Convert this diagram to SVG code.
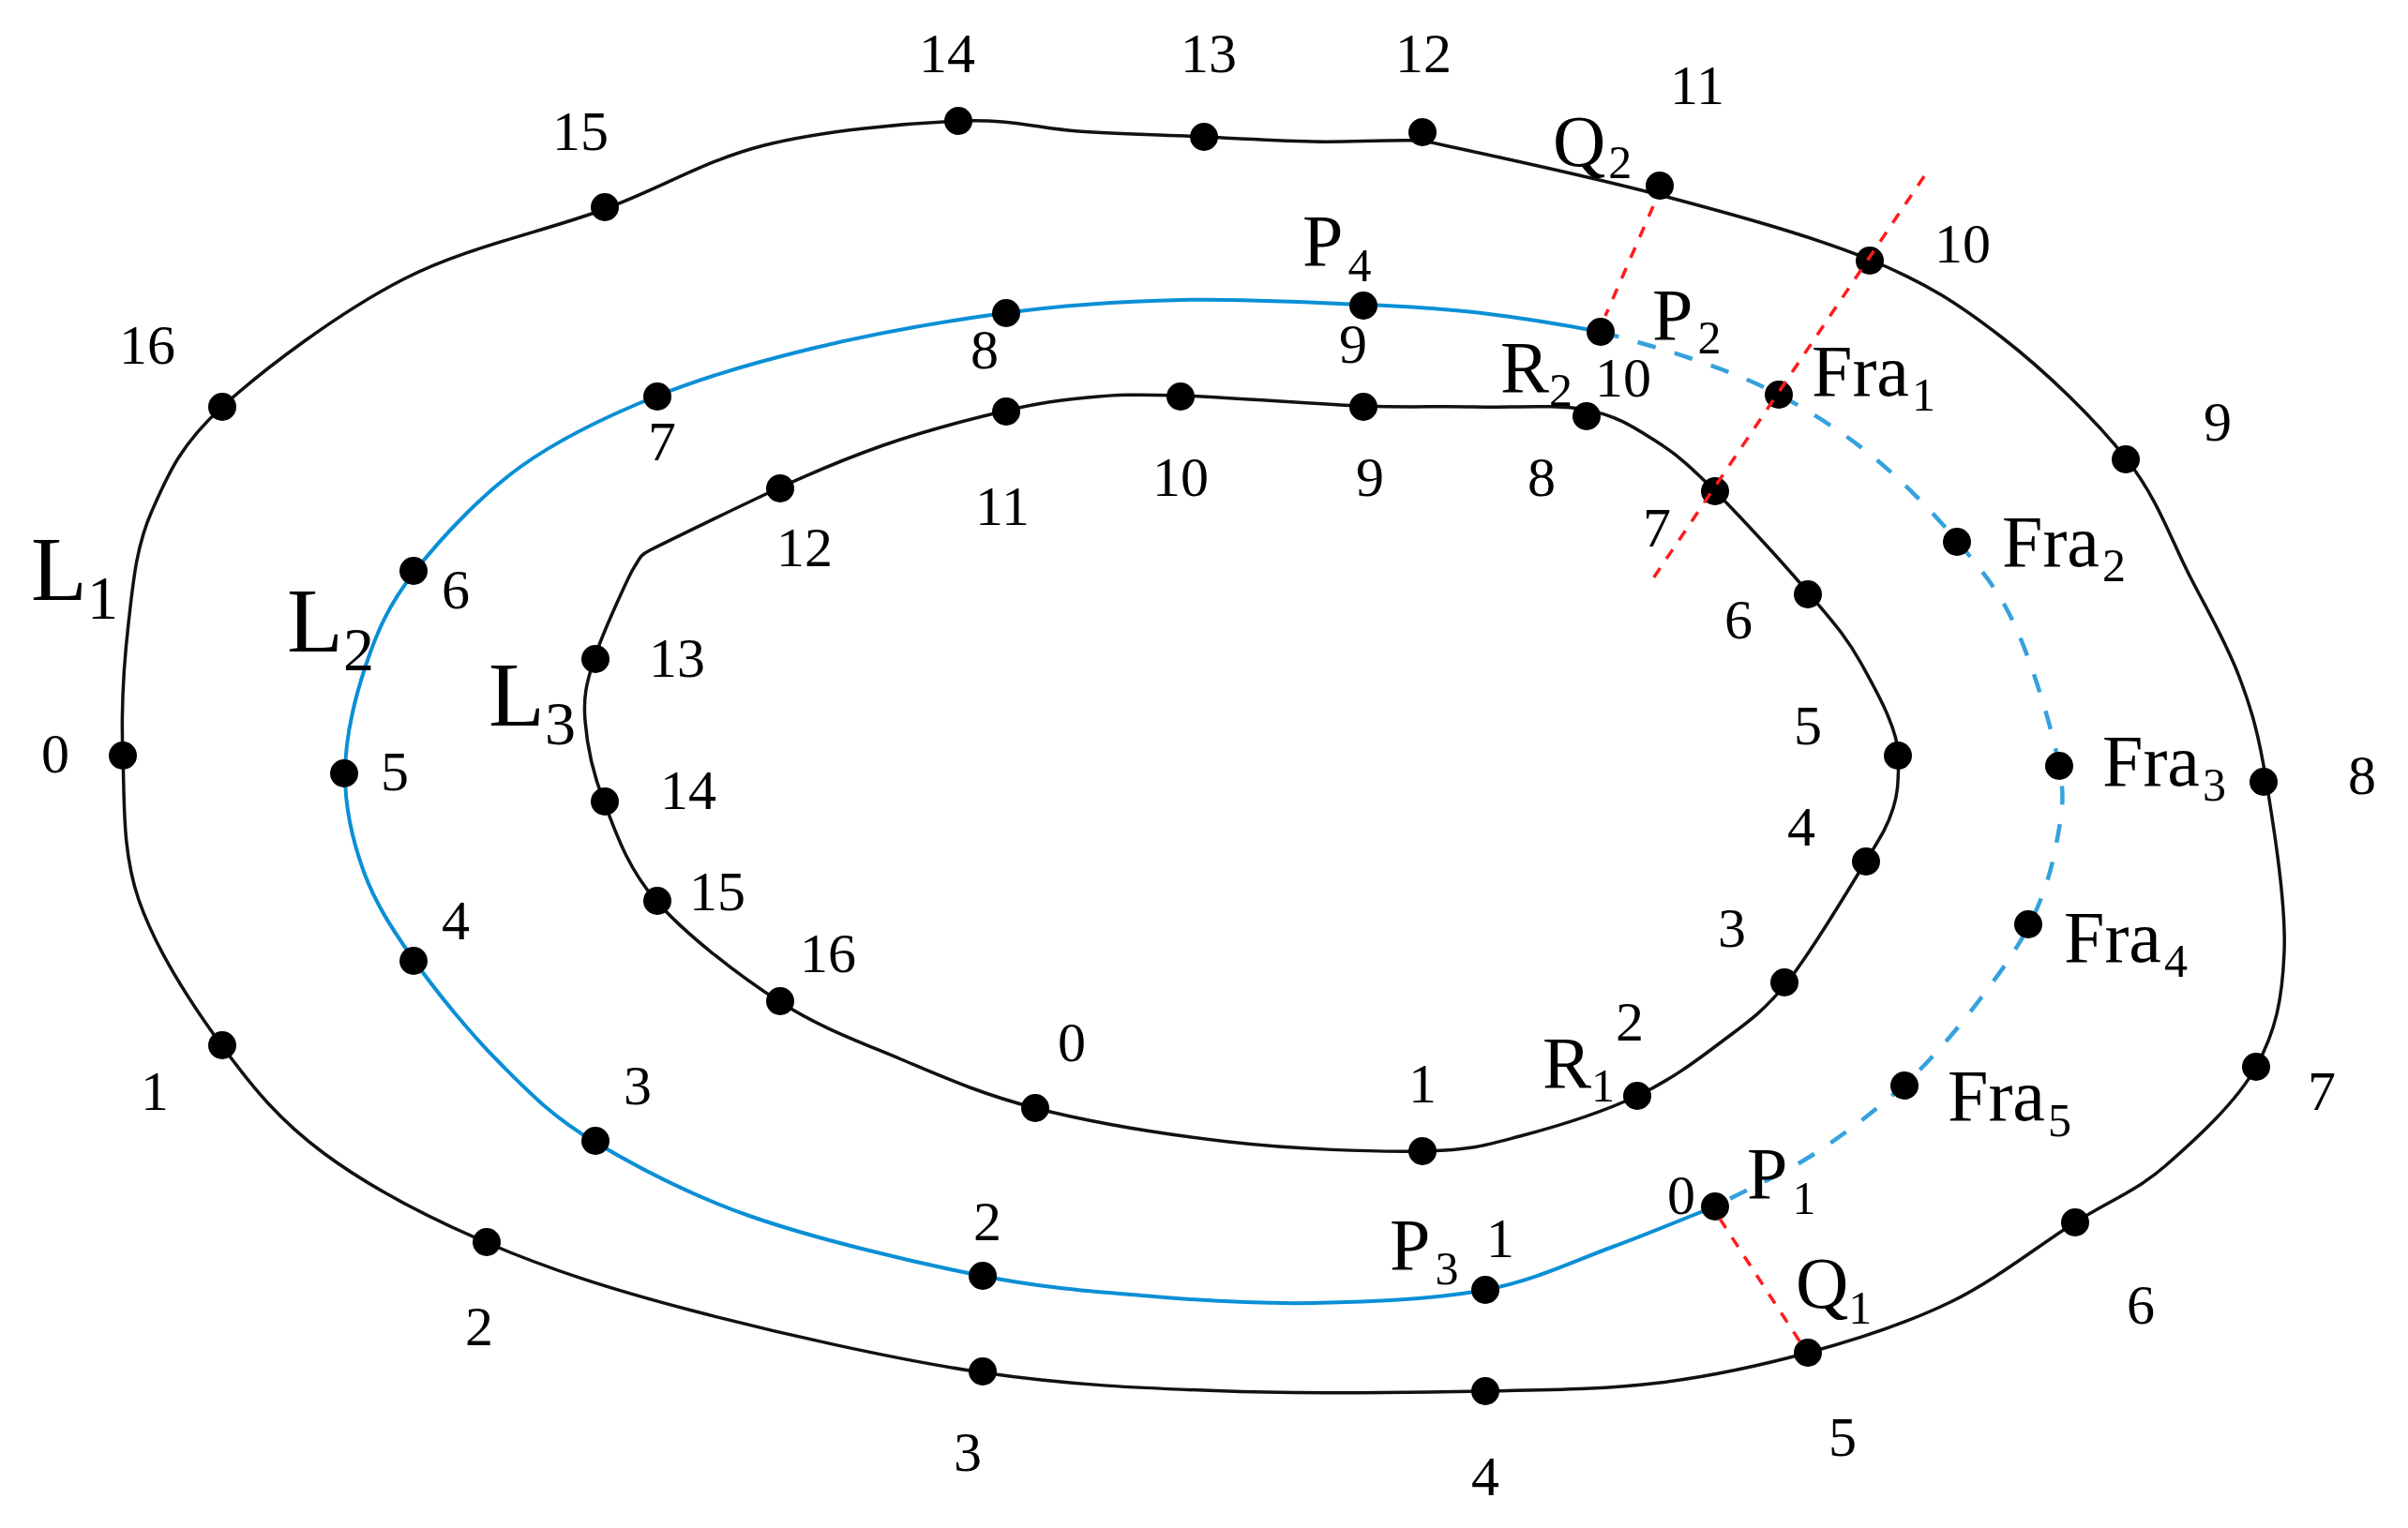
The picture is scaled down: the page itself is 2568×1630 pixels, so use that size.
<svg xmlns="http://www.w3.org/2000/svg" width="2568" height="1630" viewBox="0 0 2568 1630">
<style>
text{font-family:"Liberation Serif","Times New Roman",serif;fill:#000}
.n{font-size:60px;text-anchor:middle}
.m{font-size:78px}
.s{font-size:50px}
.b{font-size:98px}
.bs{font-size:66px}
circle{fill:#000;r:15px}
path{fill:none}
.k{stroke:#111;stroke-width:3.5}
.bl{stroke:#0a8fd6;stroke-width:4}
.da{stroke:#35a2de;stroke-width:4.5;stroke-dasharray:20 21}
.r{stroke:#ff1c1c;stroke-width:3.5;stroke-dasharray:12 12}
</style>
<rect width="2568" height="1630" fill="#fff"/>
<g id="connectors">
<path id="L1" class="k" d="M131,806 C133,855 130,908 148,960 S204,1071 237,1116 S298,1195 345,1230 S454.500,1298 520,1326 S650,1375 738,1398 S952,1450 1047,1464 S1220.500,1481 1310,1484 S1507,1485.500 1584,1484 S1713,1482 1770,1475 S1876,1457 1928,1443 S2032.500,1412 2080,1389 S2175,1328 2213,1304 S2278,1271 2310,1243 S2385,1176 2406,1138 S2434,1066 2436,1015 S2425,883 2417,834 S2402,759 2388,722 S2355,653 2335,614 S2301,532 2268,490 S2181,395.500 2135,360 S2055,302 1994,277 S1849.500,229 1770,208 S1600,168 1517,150 C1470,149 1439,152 1400,151 S1325,148 1283,146 S1193,143 1150,140 S1079,126.500 1023,129 S878,139 815,155 S709,199 645,223 S498,263 430,298 S282,393 237,434 S179,506.500 162,545 S142,621.500 137,665 S129,757 131,806Z"/>
<path id="L2" class="bl" d="M1829,1287 C1793,1301 1761,1315 1720,1330 S1637,1366 1584,1376 S1459,1389 1400,1390 S1289,1388 1230,1383 S1118,1375 1047,1361 S871,1322 802,1298 S679,1245 634,1218 S566,1167 534,1135 S466,1059 442,1025 S400,963 388,930 S368,863 368,826 S378,746 390,710 S414.500,645 442,610 S512,529 555,498 S647,444 699,423 S803,387 865,372 S1005,343 1071,334 S1196,321.500 1260,320 S1401,323 1454,325 S1538,329 1580,334 S1665,346 1707,354"/>
<path id="L2-dashed" class="da" d="M1707,354 C1739,363 1770,371 1802,382 S1865,404 1897,421 S1964,460 1996,486 S2062,547 2088,578 S2132,630 2150,670 S2189,779 2196,817 S2198,872 2193,900 S2179,957 2165,985 S2132,1039 2110,1068 S2060.500,1130 2031,1157 S1967,1210 1933,1232 S1864,1268 1829,1287"/>
<path id="L3" class="k" d="M1104,1182 C1162,1197 1241,1210 1310,1218 S1465,1229 1517,1228 S1583,1222 1621,1212 S1710,1186 1746,1169 S1808.500,1132 1835,1112 S1879,1081 1905,1049 S1970,951 1989,920 S2013,881 2019,862 S2024,830 2025,807 C2023,775 2001,737 1985,708 S1955,664 1929,633 S1856,551 1829,524 S1788,484.500 1765,470 S1723.500,443 1691,437 S1609.500,435 1570,434 S1506,435 1454,433 S1308,423.500 1259,422 S1191,421 1160,424 S1109,429.500 1073,438 S982,461 942,475 S873.500,501 832,520 S705,581 693,587 S682,597 677,604 S643,674.500 634,702 S622,743.500 624,769 S631.500,823 644,855 S668,924 699,960 S788,1041 832,1069 S916,1111 961,1130 S1046,1167 1104,1182Z"/>
</g>
<g id="L1-nodes">
<g id="a0"><circle cx="131" cy="806"/><text class="n" x="59" y="824">0</text></g>
<g id="a1"><circle cx="237" cy="1115"/><text class="n" x="165" y="1184">1</text></g>
<g id="a2"><circle cx="519" cy="1325"/><text class="n" x="511" y="1435">2</text></g>
<g id="a3"><circle cx="1048" cy="1463"/><text class="n" x="1032" y="1569">3</text></g>
<g id="a4"><circle cx="1584" cy="1484"/><text class="n" x="1584" y="1595">4</text></g>
<g id="a5"><circle cx="1928" cy="1443"/><text class="n" x="1965" y="1553">5</text><text class="m" x="1915" y="1395">Q<tspan class="s" dy="17">1</tspan></text></g>
<g id="a6"><circle cx="2213" cy="1304"/><text class="n" x="2283" y="1412">6</text></g>
<g id="a7"><circle cx="2406" cy="1138"/><text class="n" x="2476" y="1184">7</text></g>
<g id="a8"><circle cx="2414" cy="834"/><text class="n" x="2519" y="847">8</text></g>
<g id="a9"><circle cx="2267" cy="490"/><text class="n" x="2365" y="470">9</text></g>
<g id="a10"><circle cx="1994" cy="278"/><text class="n" x="2093" y="280">10</text></g>
<g id="a11"><circle cx="1770" cy="198"/><text class="n" x="1810" y="111">11</text><text class="m" x="1656" y="177">Q<tspan class="s" dy="13" dx="3">2</tspan></text></g>
<g id="a12"><circle cx="1517" cy="141"/><text class="n" x="1518" y="77">12</text></g>
<g id="a13"><circle cx="1284" cy="146"/><text class="n" x="1289" y="77">13</text></g>
<g id="a14"><circle cx="1022" cy="129"/><text class="n" x="1010" y="77">14</text></g>
<g id="a15"><circle cx="645" cy="221"/><text class="n" x="619" y="160">15</text></g>
<g id="a16"><circle cx="237" cy="434"/><text class="n" x="157" y="388">16</text></g>
</g>
<g id="L2-nodes">
<g id="b0"><circle cx="1829" cy="1287"/><text class="n" x="1793" y="1295">0</text><text class="m" x="1863" y="1278">P<tspan class="s" dy="17" dx="5">1</tspan></text></g>
<g id="b1"><circle cx="1584" cy="1376"/><text class="n" x="1600" y="1341">1</text><text class="m" x="1482" y="1354">P<tspan class="s" dy="16" dx="5">3</tspan></text></g>
<g id="b2"><circle cx="1048" cy="1361"/><text class="n" x="1053" y="1323">2</text></g>
<g id="b3"><circle cx="635" cy="1217"/><text class="n" x="680" y="1178">3</text></g>
<g id="b4"><circle cx="441" cy="1025"/><text class="n" x="486" y="1002">4</text></g>
<g id="b5"><circle cx="367" cy="825"/><text class="n" x="421" y="843">5</text></g>
<g id="b6"><circle cx="441" cy="609"/><text class="n" x="486" y="649">6</text></g>
<g id="b7"><circle cx="701" cy="423"/><text class="n" x="706" y="491">7</text></g>
<g id="b8"><circle cx="1073" cy="334"/><text class="n" x="1050" y="393">8</text></g>
<g id="b9"><circle cx="1454" cy="326"/><text class="n" x="1443" y="387">9</text><text class="m" x="1389" y="283">P<tspan class="s" dy="17" dx="5">4</tspan></text></g>
<g id="b10"><circle cx="1707" cy="354"/><text class="n" x="1731" y="423">10</text><text class="m" x="1762" y="362">P<tspan class="s" dy="15" dx="5">2</tspan></text></g>
</g>
<g id="fra-nodes">
<g id="fra1"><circle cx="1897" cy="421"/><text class="m" x="1932" y="422">Fra<tspan class="s" dy="16" dx="3">1</tspan></text></g>
<g id="fra2"><circle cx="2087" cy="578"/><text class="m" x="2135" y="604">Fra<tspan class="s" dy="16" dx="3">2</tspan></text></g>
<g id="fra3"><circle cx="2196" cy="817"/><text class="m" x="2242" y="838">Fra<tspan class="s" dy="16" dx="3">3</tspan></text></g>
<g id="fra4"><circle cx="2163" cy="986"/><text class="m" x="2201" y="1026">Fra<tspan class="s" dy="16" dx="3">4</tspan></text></g>
<g id="fra5"><circle cx="2031" cy="1158"/><text class="m" x="2077" y="1195">Fra<tspan class="s" dy="17" dx="3">5</tspan></text></g>
</g>
<g id="L3-nodes">
<g id="c0"><circle cx="1104" cy="1182"/><text class="n" x="1143" y="1132">0</text></g>
<g id="c1"><circle cx="1517" cy="1228"/><text class="n" x="1517" y="1176">1</text></g>
<g id="c2"><circle cx="1746" cy="1169"/><text class="n" x="1738" y="1110">2</text><text class="m" x="1645" y="1160">R<tspan class="s" dy="15">1</tspan></text></g>
<g id="c3"><circle cx="1903" cy="1048"/><text class="n" x="1847" y="1010">3</text></g>
<g id="c4"><circle cx="1990" cy="919"/><text class="n" x="1921" y="902">4</text></g>
<g id="c5"><circle cx="2024" cy="806"/><text class="n" x="1928" y="794">5</text></g>
<g id="c6"><circle cx="1928" cy="634"/><text class="n" x="1854" y="681">6</text></g>
<g id="c7"><circle cx="1829" cy="524"/><text class="n" x="1767" y="583">7</text></g>
<g id="c8"><circle cx="1692" cy="444"/><text class="n" x="1644" y="529">8</text><text class="m" x="1600" y="418">R<tspan class="s" dy="15">2</tspan></text></g>
<g id="c9"><circle cx="1454" cy="434"/><text class="n" x="1461" y="529">9</text></g>
<g id="c10"><circle cx="1259" cy="423"/><text class="n" x="1259" y="529">10</text></g>
<g id="c11"><circle cx="1073" cy="439"/><text class="n" x="1069" y="560">11</text></g>
<g id="c12"><circle cx="832" cy="521"/><text class="n" x="858" y="604">12</text></g>
<g id="c13"><circle cx="635" cy="703"/><text class="n" x="722" y="722">13</text></g>
<g id="c14"><circle cx="645" cy="855"/><text class="n" x="734" y="863">14</text></g>
<g id="c15"><circle cx="701" cy="961"/><text class="n" x="765" y="971">15</text></g>
<g id="c16"><circle cx="832" cy="1068"/><text class="n" x="883" y="1037">16</text></g>
</g>
<g id="curve-labels">
<text class="b" x="33" y="640">L<tspan class="bs" dy="20">1</tspan></text>
<text class="b" x="306" y="695">L<tspan class="bs" dy="20">2</tspan></text>
<text class="b" x="521" y="774">L<tspan class="bs" dy="20">3</tspan></text>
</g>
<g id="normals">
<path class="r" d="M1763,220L1712,337"/>
<path class="r" d="M2052,188L1761,620"/>
<path class="r" d="M1834,1300L1920,1432"/>
</g>
</svg>
